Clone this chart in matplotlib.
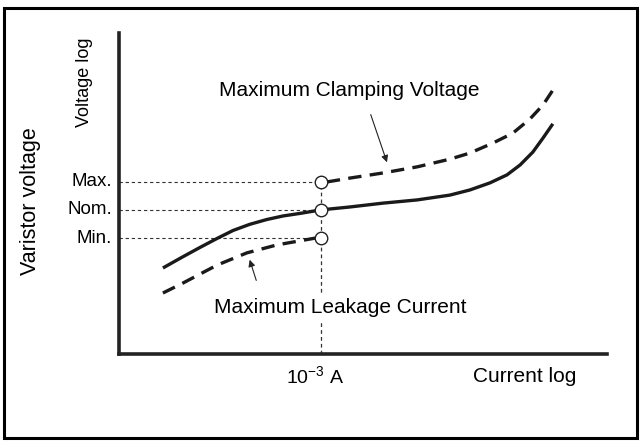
import matplotlib
matplotlib.use("Agg")
import matplotlib.pyplot as plt
from matplotlib.patches import Rectangle

plt.rcParams['font.family'] = ['Liberation Sans', 'DejaVu Sans']

# log current (arbitrary units, 0..10) and log voltage (0..10)
i_nom = [0.90, 1.31, 1.66, 2.01, 2.34, 2.68, 3.03, 3.36, 3.71, 4.14, 4.73, 5.41,
         6.11, 6.78, 7.19, 7.60, 7.95, 8.22, 8.48, 8.69, 8.89]
v_nom = [2.68, 3.03, 3.32, 3.60, 3.85, 4.04, 4.19, 4.30, 4.38, 4.49, 4.58, 4.70,
         4.80, 4.95, 5.11, 5.33, 5.58, 5.89, 6.29, 6.73, 7.17]

i_clamp = [4.26, 4.73, 5.41, 6.11, 6.78, 7.19, 7.66, 8.07, 8.42, 8.69, 8.89]
v_clamp = [5.36, 5.48, 5.64, 5.83, 6.07, 6.26, 6.57, 6.88, 7.32, 7.76, 8.22]

i_leak = [0.90, 1.31, 2.01, 2.62, 3.24, 4.02]
v_leak = [1.90, 2.21, 2.77, 3.15, 3.40, 3.61]

i_ref = 4.14            # 10^-3 A
v_levels = [5.36, 4.49, 3.61]
v_names = ['Max.', 'Nom.', 'Min.']

fig = plt.figure(figsize=(6.41, 4.41), dpi=100)
fig.patches.append(Rectangle((4/641, 3/441), 633/641, 430/441, transform=fig.transFigure,
                             fill=False, edgecolor='black', linewidth=2.2))

ax = fig.add_axes([119/641, 87/441, 488/641, 321/441])
ax.set_xlim(0, 10)
ax.set_ylim(0, 10)
for s in ['top', 'right']:
    ax.spines[s].set_visible(False)
for s in ['left', 'bottom']:
    ax.spines[s].set_linewidth(2.6)
    ax.spines[s].set_color('#222222')
ax.set_xticks([])
ax.set_yticks([])

# guide lines
for v in v_levels:
    ax.plot([0, i_ref], [v, v], color='#333333', lw=0.8, ls=(0, (3, 2.5)), zorder=1)
ax.plot([i_ref, i_ref], [0, v_levels[0]], color='#333333', lw=0.9, ls=(0, (3, 2.5)), zorder=1)

ax.plot(i_nom, v_nom, color='#1a1a1a', lw=2.4, solid_capstyle='butt',
        solid_joinstyle='round', zorder=2)
ax.plot(i_clamp, v_clamp, color='#1a1a1a', lw=2.4, ls=(0, (4, 2.5)), zorder=2)
ax.plot(i_leak, v_leak, color='#1a1a1a', lw=2.4, ls=(0, (4, 2.5)), zorder=2)

ax.plot([i_ref] * 3, v_levels, 'o', ms=9, mfc='white', mec='#222222', mew=1.0, zorder=3)

for v, name in zip(v_levels, v_names):
    ax.text(-0.14, v, name, ha='right', va='center', fontsize=13.5)

ax.annotate('', xy=(5.51, 5.89), xytext=(5.14, 7.54),
            arrowprops=dict(arrowstyle='-|>', color='#222222', lw=0.8, mutation_scale=10))
ax.annotate('', xy=(2.66, 3.02), xytext=(2.83, 2.21),
            arrowprops=dict(arrowstyle='-|>', color='#222222', lw=0.8, mutation_scale=10))

ax.text(4.72, 8.22, 'Maximum Clamping Voltage', ha='center', va='center', fontsize=15)
ax.text(4.54, 1.46, 'Maximum Leakage Current', ha='center', va='center', fontsize=15,
        bbox=dict(facecolor='white', edgecolor='none', pad=3), zorder=4)

ax.text(-0.70, 8.46, 'Voltage log', rotation=90, ha='center', va='center', fontsize=13)
ax.text(-1.82, 4.77, 'Varistor voltage', rotation=90, ha='center', va='center', fontsize=15.5)

ax.text(4.02, -0.72, r'10$^{\mathregular{-3}}$ A', ha='center', va='center', fontsize=14)
ax.text(8.32, -0.69, 'Current log', ha='center', va='center', fontsize=15)

fig.savefig('out.png', dpi=100)
